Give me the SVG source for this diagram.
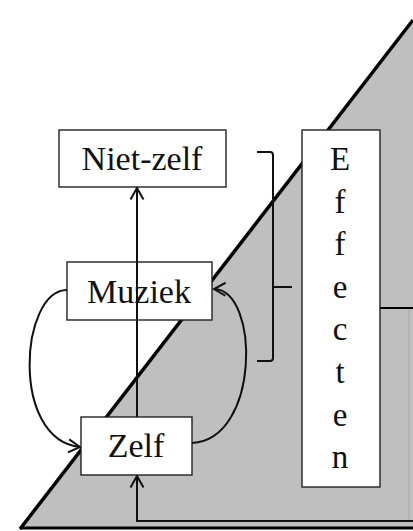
<svg xmlns="http://www.w3.org/2000/svg" width="413" height="531" viewBox="0 0 413 531">
<style>
.box{fill:#fff;stroke:#222;stroke-width:1.4}
.lbl{font-family:"Liberation Serif","Times New Roman",serif;font-size:34px;fill:#111;text-anchor:middle}
.let{font-family:"Liberation Serif","Times New Roman",serif;font-size:33px;fill:#111;text-anchor:middle}
.con{fill:none;stroke:#111;stroke-width:2}
</style>
<defs>
<marker id="arr" viewBox="0 0 14 16" refX="12.5" refY="8" markerWidth="14" markerHeight="16" markerUnits="userSpaceOnUse" orient="auto">
<path d="M1,1.5 L12.5,8 L1,14.5" fill="none" stroke="#111" stroke-width="2"/>
</marker>
</defs>
<rect width="413" height="531" fill="#fff"/>
<g id="background">
<polygon points="20,529 413,20 413,529" fill="#bfbfbf"/>
<line x1="20" y1="529" x2="413" y2="20" stroke="#000" stroke-width="3.5"/>
<line x1="20" y1="528" x2="413" y2="528" stroke="#000" stroke-width="3"/>
<line x1="380" y1="308" x2="413" y2="308" stroke="#000" stroke-width="2.2"/>
<line x1="409" y1="309" x2="409" y2="520" stroke="#a8a8a8" stroke-width="1"/>
</g>
<g id="brace">
<path class="con" d="M257,152 L270,152 Q273,152 273,155 L273,358 Q273,361 270,361 L257,361"/>
<path class="con" d="M273,287 L292,287"/>
</g>
<g id="niet-zelf">
<rect class="box" x="59" y="130" width="167" height="57"/>
<text class="lbl" x="142" y="170">Niet-zelf</text>
</g>
<g id="muziek">
<rect class="box" x="67" y="262" width="145" height="58"/>
<text class="lbl" x="139" y="303">Muziek</text>
</g>
<g id="zelf">
<rect class="box" x="81" y="417" width="111" height="58"/>
<text class="lbl" x="136" y="457">Zelf</text>
</g>
<g id="effecten">
<rect class="box" x="302" y="130" width="78" height="357"/>
<text class="let" x="340" y="170">E</text>
<text class="let" x="340" y="213">f</text>
<text class="let" x="340" y="255">f</text>
<text class="let" x="340" y="298">e</text>
<text class="let" x="340" y="340">c</text>
<text class="let" x="340" y="383">t</text>
<text class="let" x="340" y="426">e</text>
<text class="let" x="340" y="468">n</text>
</g>
<g id="connectors">
<path class="con" d="M137,417 L137,188" marker-end="url(#arr)"/>
<path class="con" d="M413,521 L137,521 L137,476" marker-end="url(#arr)"/>
<path class="con" d="M67,290 C20,290 10,440 80,447" marker-end="url(#arr)"/>
<path class="con" d="M192,443 C260,440 260,290 214,289" marker-end="url(#arr)"/>
</g>
</svg>
